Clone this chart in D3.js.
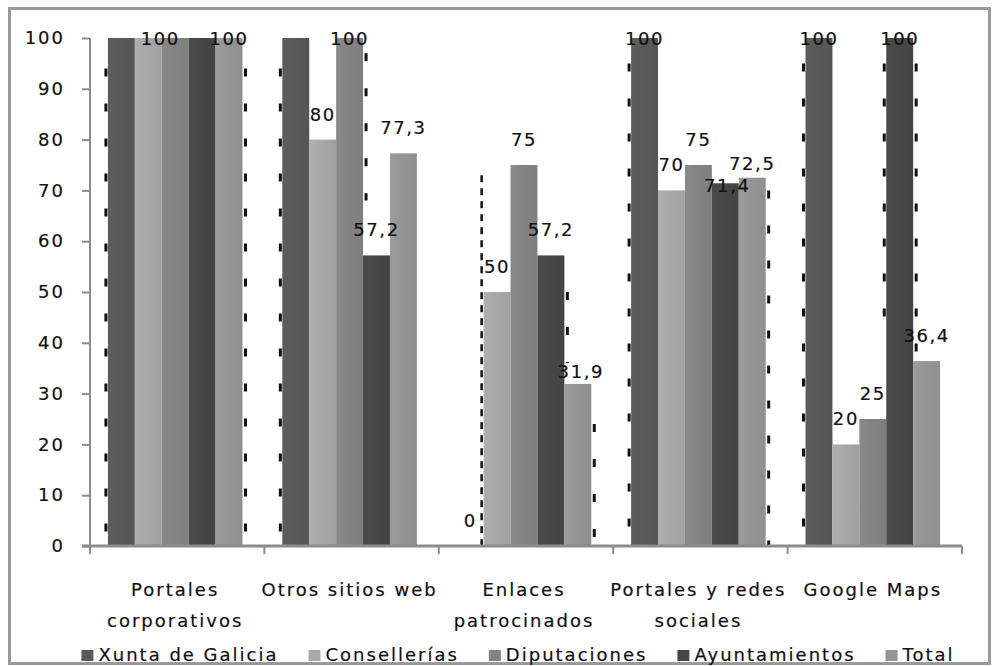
<!DOCTYPE html>
<html>
<head>
<meta charset="utf-8">
<script src="https://cdn.jsdelivr.net/npm/d3@7/dist/d3.min.js"></script>
<style>
  html, body { margin: 0; padding: 0; background: #fff; }
  svg { display: block; }
  text { font-family: "DejaVu Sans", Verdana, sans-serif; fill: #111; stroke: #111; stroke-width: 0.2px; }
</style>
</head>
<body>
<svg id="chart" width="993" height="666"></svg>
<script>
// Categories (two-line wrapping as shown under the axis)
const categories = ["Portales corporativos", "Otros sitios web", "Enlaces patrocinados", "Portales y redes sociales", "Google Maps"];
const categoryLines = [["Portales", "corporativos"], ["Otros sitios web"], ["Enlaces", "patrocinados"], ["Portales y redes", "sociales"], ["Google Maps"]];

// Series and their values per category
const series = ["Xunta de Galicia", "Consellerías", "Diputaciones", "Ayuntamientos", "Total"];
const xuntaDeGalicia = [100, 100, 0, 100, 100];
const consellerias   = [100, 80, 50, 70, 20];
const diputaciones   = [100, 100, 75, 75, 25];
const ayuntamientos  = [100, 57.2, 57.2, 71.4, 100];
const total          = [100, 77.3, 31.9, 72.5, 36.4];
const seriesValues = [xuntaDeGalicia, consellerias, diputaciones, ayuntamientos, total];

// Which data labels are printed (rows: series, columns: categories)
const labelShown = [
  [false, false, true, true, true],
  [true,  true,  true, true, true],
  [false, true,  true, true, true],
  [false, true,  true, true, true],
  [true,  true,  true, true, true]
];

// Y axis ticks
const yTicks = [0, 10, 20, 30, 40, 50, 60, 70, 80, 90, 100];

const colors = ["#595959", "#a8a8a8", "#838383", "#474747", "#959595"];

// Label nudges (pixels) for crowded labels: key "series-category"
const labelNudge = { "1-0": [12, 0], "3-3": [2, 28], "4-3": [0, 11], "4-2": [3, 13] };

// Dotted edge marks along some bar sides: [category, series, side, from, to, dense]
const edgeMarks = [
  [0, 0, "left", 0, 94, false], [0, 4, "right", 0, 94, false],
  [1, 0, "left", 0, 94, false], [1, 2, "right", 68, 97, false],
  [2, 1, "left", 0, 73, true], [2, 3, "right", 36, 50, false], [2, 4, "right", 0, 24, false],
  [3, 0, "left", 0, 95, false], [3, 4, "right", 0, 70, false],
  [4, 0, "left", 0, 95, false], [4, 3, "left", 40, 95, false], [4, 3, "right", 37, 95, false]
];

const svg = d3.select("#chart");
const plot = { left: 90, right: 962, top: 38, bottom: 546 };
const fontSize = 18, spacing = "2px";

const x0 = d3.scaleBand().domain(categories).range([plot.left, plot.right]).padding(0);
const x1 = d3.scaleBand().domain(series).range([-2, x0.bandwidth() - 2]).paddingInner(0).paddingOuter(0.74);
const y = d3.scaleLinear().domain([0, 100]).range([plot.bottom, plot.top]);

// Outer frame
svg.append("rect").attr("x", 9.5).attr("y", 8.5).attr("width", 980).attr("height", 655)
  .attr("fill", "#fff").attr("stroke", "#9a9a9a").attr("stroke-width", 3);

// Horizontal shading per series
const defs = svg.append("defs");
colors.forEach((c, i) => {
  const g = defs.append("linearGradient").attr("id", "grad" + i).attr("x1", "0").attr("x2", "1").attr("y1", "0").attr("y2", "0");
  g.append("stop").attr("offset", "0").attr("stop-color", d3.color(c).brighter(0.12));
  g.append("stop").attr("offset", "0.45").attr("stop-color", c);
  g.append("stop").attr("offset", "1").attr("stop-color", d3.color(c).darker(0.12));
});

// Bars
const groups = svg.append("g").selectAll("g").data(categories).join("g")
  .attr("transform", d => `translate(${x0(d)},0)`);
groups.each(function(cat, ci) {
  const g = d3.select(this);
  series.forEach((s, si) => {
    const v = seriesValues[si][ci];
    g.append("rect")
      .attr("x", x1(s)).attr("width", x1.bandwidth())
      .attr("y", y(v)).attr("height", y(0) - y(v))
      .attr("fill", `url(#grad${si})`);
  });
});

// Dotted edge marks
edgeMarks.forEach(([ci, si, side, from, to, dense]) => {
  const xb = x0(categories[ci]) + x1(series[si]) + (side === "left" ? -2 : x1.bandwidth() + 3);
  svg.append("line")
    .attr("x1", xb).attr("x2", xb)
    .attr("y1", y(to)).attr("y2", y(from))
    .attr("stroke", "#111").attr("stroke-width", dense ? 2.5 : 3)
    .attr("stroke-dasharray", dense ? "7,6" : "8,27");
});

// Axes
const axisColor = "#8c8c8c";
const yAxis = svg.append("g").attr("transform", `translate(${plot.left},0)`)
  .call(d3.axisLeft(y).tickValues(yTicks).tickSize(8).tickPadding(10).tickFormat(d3.format("d")));
yAxis.select(".domain").attr("stroke", axisColor).attr("stroke-width", 2).attr("d", `M0,${plot.top}V${plot.bottom}`);
yAxis.selectAll(".tick line").attr("stroke", axisColor).attr("stroke-width", 2);
yAxis.selectAll(".tick text").attr("font-size", fontSize).attr("letter-spacing", spacing)
  .attr("font-family", "DejaVu Sans").attr("fill", "#111").attr("x", -25);

const xAxis = svg.append("g").attr("transform", `translate(0,${plot.bottom})`);
xAxis.append("line").attr("x1", plot.left - 8).attr("x2", plot.right)
  .attr("stroke", axisColor).attr("stroke-width", 3);
const boundaries = categories.map(c => x0(c)).concat([plot.right]);
xAxis.selectAll("line.tk").data(boundaries).join("line").attr("class", "tk")
  .attr("x1", d => d).attr("x2", d => d).attr("y1", 0).attr("y2", 8)
  .attr("stroke", axisColor).attr("stroke-width", 2);

// Category labels
categories.forEach((c, ci) => {
  const t = svg.append("text").attr("text-anchor", "middle").attr("font-size", fontSize).attr("letter-spacing", spacing);
  categoryLines[ci].forEach((line, li) => {
    t.append("tspan").attr("x", x0(c) + x0.bandwidth() / 2 - 2).attr("y", 596 + li * 31).text(line);
  });
});

// Data labels
const fmt = v => String(v).replace(".", ",");
series.forEach((s, si) => {
  categories.forEach((c, ci) => {
    if (!labelShown[si][ci]) return;
    const v = seriesValues[si][ci];
    const n = labelNudge[si + "-" + ci] || [0, 0];
    const cx = x0(c) + x1(s) + x1.bandwidth() / 2 + n[0];
    const by = Math.max(y(v) - 19, 45) + n[1];
    svg.append("text").attr("x", cx).attr("y", by).attr("text-anchor", "middle")
      .attr("font-size", fontSize).attr("letter-spacing", "1.6px").text(fmt(v));
  });
});

// Legend
const legend = svg.append("g");
let lx = 0;
series.forEach((s, si) => {
  const item = legend.append("g").attr("transform", `translate(${lx},0)`);
  item.append("rect").attr("x", 0).attr("y", -11).attr("width", 12).attr("height", 11).attr("fill", colors[si]).attr("stroke", "none");
  const t = item.append("text").attr("x", 17).attr("y", 0).attr("font-size", fontSize).attr("letter-spacing", spacing).text(s);
  lx += 17 + t.node().getComputedTextLength() + 30;
});
const legendWidth = lx - 30;
legend.attr("transform", `translate(${518 - legendWidth / 2},661)`);
</script>
</body>
</html>
